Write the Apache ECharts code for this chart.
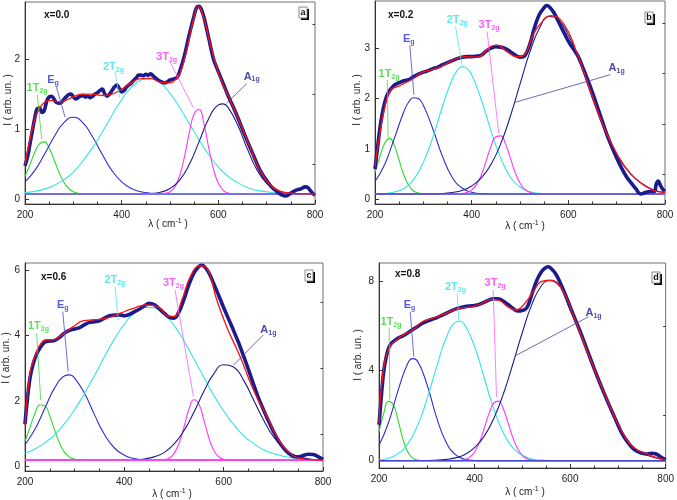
<!DOCTYPE html>
<html><head><meta charset="utf-8">
<script src="https://cdn.jsdelivr.net/npm/echarts@6/dist/echarts.min.js"></script>
<style>html,body{margin:0;padding:0;background:#fff}#c{width:677px;height:500px}</style>
</head><body><div id="c"></div>
<script>
// ---------- shared ticks ----------
const xTicks = [200, 400, 600, 800];
const a_yTicks = [0, 1, 2], a_yMinor = [0.5, 1.5, 2.5];
const b_yTicks = [0, 1, 2, 3], b_yMinor = [0.5, 1.5, 2.5, 3.5];
const c_yTicks = [0, 2, 4, 6], c_yMinor = [1, 3, 5];
const d_yTicks = [0, 4, 8], d_yMinor = [2, 6];
const compNames = [['1T','2g'], ['E','g'], ['2T','2g'], ['3T','2g'], ['A','1g']];
const sampleLabels = ['x=0.0', 'x=0.2', 'x=0.6', 'x=0.8'];
const panelLetters = ['a', 'b', 'c', 'd'];

// ---------- panel a ----------
const a_exp = [[200,0.48],[205,0.6],[210,0.78],[215,0.97],[220,1.15],[225,1.29],[230,1.3],[235,1.24],[240,1.27],[245,1.4],[250,1.46],[255,1.47],[260,1.43],[265,1.38],[270,1.37],[275,1.38],[280,1.42],[285,1.46],[290,1.49],[295,1.5],[300,1.46],[305,1.43],[310,1.45],[315,1.47],[320,1.48],[325,1.46],[330,1.47],[335,1.45],[340,1.47],[345,1.5],[350,1.52],[355,1.55],[360,1.57],[365,1.5],[370,1.47],[375,1.5],[380,1.55],[385,1.6],[390,1.63],[395,1.58],[400,1.53],[405,1.55],[410,1.6],[420,1.66],[430,1.73],[435,1.77],[440,1.77],[445,1.76],[450,1.78],[455,1.77],[460,1.79],[465,1.76],[470,1.73],[480,1.68],[490,1.66],[500,1.7],[510,1.72],[515,1.74],[520,1.82],[530,2.05],[540,2.35],[550,2.62],[555,2.73],[560,2.75],[565,2.7],[570,2.6],[580,2.3],[590,2.0],[600,1.82],[610,1.65],[620,1.48],[630,1.33],[640,1.17],[650,1.0],[660,0.83],[670,0.67],[680,0.51],[690,0.37],[700,0.27],[710,0.18],[720,0.12],[730,0.07],[740,0.05],[750,0.09],[760,0.13],[770,0.15],[780,0.18],[785,0.17],[790,0.13],[795,0.09],[800,0.06]];
const a_fit = [[200,0.5],[210,0.85],[220,1.13],[230,1.3],[240,1.38],[250,1.41],[260,1.4],[270,1.39],[280,1.4],[290,1.43],[300,1.46],[320,1.5],[340,1.5],[360,1.48],[380,1.5],[400,1.57],[420,1.66],[440,1.72],[460,1.72],[480,1.67],[500,1.66],[510,1.7],[520,1.79],[530,2.0],[540,2.3],[550,2.6],[558,2.75],[570,2.58],[583,2.22],[603,1.75],[624,1.42],[645,1.09],[665,0.75],[686,0.42],[707,0.21],[728,0.12],[750,0.09],[775,0.08],[800,0.08]];
const a_1T = [[200,0.33],[210,0.49],[220,0.67],[230,0.79],[240,0.82],[250,0.73],[260,0.57],[270,0.39],[280,0.25],[290,0.16],[300,0.11],[310,0.09],[320,0.08],[800,0.08]];
const a_Eg = [[200,0.25],[220,0.41],[240,0.64],[260,0.89],[280,1.09],[300,1.17],[320,1.09],[340,0.89],[360,0.64],[380,0.41],[400,0.25],[420,0.155],[440,0.11],[460,0.09],[480,0.08],[800,0.08]];
const a_2T = [[200,0.1],[220,0.116],[240,0.148],[260,0.2],[280,0.28],[300,0.39],[320,0.55],[340,0.74],[360,0.96],[380,1.2],[400,1.42],[420,1.6],[440,1.7],[460,1.73],[480,1.66],[500,1.51],[520,1.31],[540,1.08],[560,0.85],[580,0.64],[600,0.46],[620,0.33],[640,0.24],[660,0.17],[680,0.13],[700,0.11],[720,0.093],[740,0.086],[760,0.082],[800,0.08]];
const a_3T = [[200,0.08],[480,0.08],[490,0.087],[500,0.11],[510,0.18],[520,0.34],[530,0.61],[540,0.95],[550,1.22],[560,1.28],[570,1.08],[580,0.74],[590,0.43],[600,0.23],[610,0.13],[620,0.093],[630,0.082],[640,0.08],[800,0.08]];
const a_A1g = [[200,0.08],[440,0.08],[460,0.086],[480,0.104],[500,0.156],[520,0.277],[540,0.5],[560,0.82],[580,1.15],[600,1.345],[610,1.36],[620,1.31],[640,1.06],[660,0.72],[680,0.42],[700,0.23],[720,0.135],[740,0.096],[760,0.084],[780,0.08],[800,0.08]];
const a_base = [[200,0.08],[800,0.08]];

// ---------- panel b ----------
const b_exp = [[200,0.6],[205,1.0],[210,1.4],[215,1.7],[220,1.92],[225,2.07],[230,2.16],[235,2.22],[240,2.27],[245,2.3],[250,2.32],[260,2.36],[270,2.38],[280,2.44],[290,2.49],[300,2.53],[310,2.56],[320,2.6],[330,2.63],[340,2.68],[350,2.72],[360,2.76],[370,2.8],[380,2.83],[390,2.84],[400,2.84],[410,2.85],[420,2.87],[430,2.95],[440,3.01],[450,3.04],[460,3.03],[470,3.0],[480,2.94],[490,2.87],[500,2.83],[510,2.86],[520,3.08],[530,3.42],[540,3.68],[550,3.82],[555,3.86],[560,3.84],[570,3.72],[580,3.53],[590,3.34],[600,3.15],[610,3.0],[620,2.85],[630,2.62],[640,2.38],[650,2.12],[660,1.84],[670,1.56],[680,1.28],[690,1.04],[700,0.82],[710,0.62],[720,0.45],[730,0.32],[740,0.2],[745,0.13],[750,0.1],[760,0.13],[770,0.15],[778,0.15],[782,0.3],[786,0.36],[790,0.28],[795,0.2],[800,0.15]];
const b_fit = [[200,0.65],[208,1.18],[219,1.78],[232,2.18],[243,2.23],[253,2.27],[280,2.41],[301,2.54],[329,2.61],[356,2.74],[384,2.84],[411,2.83],[439,3.04],[453,3.07],[473,2.94],[494,2.84],[508,2.87],[528,3.3],[549,3.57],[563,3.66],[590,3.5],[618,2.91],[645,2.18],[673,1.44],[700,0.91],[728,0.51],[756,0.28],[783,0.15],[800,0.13]];
const b_1T = [[200,0.53],[210,0.84],[220,1.11],[230,1.21],[240,1.07],[250,0.77],[260,0.47],[270,0.27],[280,0.16],[290,0.12],[300,0.103],[310,0.1],[800,0.1]];
const b_Eg = [[200,0.35],[220,0.69],[240,1.21],[260,1.75],[270,1.94],[280,2.02],[290,2.0],[300,1.87],[320,1.39],[340,0.84],[360,0.43],[380,0.22],[400,0.133],[420,0.107],[440,0.1],[800,0.1]];
const b_2T = [[200,0.103],[220,0.111],[240,0.138],[260,0.21],[280,0.39],[300,0.73],[320,1.24],[340,1.86],[360,2.4],[370,2.56],[380,2.64],[390,2.61],[400,2.48],[420,1.98],[440,1.36],[460,0.82],[480,0.44],[500,0.24],[520,0.148],[540,0.114],[560,0.102],[800,0.1]];
const b_3T = [[200,0.1],[370,0.1],[380,0.108],[390,0.127],[400,0.178],[410,0.29],[420,0.48],[430,0.76],[440,1.05],[450,1.24],[460,1.26],[470,1.1],[480,0.82],[490,0.53],[500,0.32],[510,0.19],[520,0.134],[530,0.11],[540,0.102],[550,0.1],[800,0.1]];
const b_A1g = [[200,0.1],[300,0.1],[340,0.11],[360,0.13],[380,0.17],[400,0.26],[420,0.42],[440,0.69],[460,1.1],[480,1.65],[500,2.29],[520,2.92],[540,3.4],[560,3.64],[580,3.57],[600,3.27],[620,2.84],[640,2.28],[660,1.74],[680,1.26],[700,0.88],[720,0.6],[740,0.4],[760,0.26],[780,0.17],[800,0.13]];
const b_base = [[200,0.1],[800,0.1]];

// ---------- panel c ----------
const c_exp = [[200,1.3],[205,2.1],[210,2.7],[215,3.05],[220,3.3],[225,3.48],[230,3.62],[235,3.72],[240,3.8],[250,3.83],[260,3.85],[270,3.95],[280,4.08],[290,4.16],[300,4.2],[310,4.24],[320,4.33],[330,4.4],[340,4.42],[350,4.45],[360,4.53],[370,4.6],[380,4.62],[390,4.63],[400,4.6],[410,4.64],[420,4.72],[430,4.8],[440,4.9],[450,4.98],[460,4.94],[470,4.82],[480,4.68],[490,4.56],[500,4.53],[510,4.72],[520,5.1],[530,5.55],[540,5.9],[550,6.1],[555,6.14],[560,6.12],[570,5.92],[580,5.58],[590,5.22],[600,4.85],[610,4.5],[620,4.15],[630,3.78],[640,3.38],[650,2.96],[660,2.52],[670,2.1],[680,1.74],[690,1.4],[700,1.08],[710,0.8],[720,0.58],[730,0.42],[740,0.32],[750,0.3],[760,0.34],[770,0.38],[780,0.37],[790,0.31],[800,0.22]];
const c_fit = [[200,1.27],[210,2.85],[220,3.36],[230,3.71],[244,3.87],[257,3.87],[270,3.97],[284,4.12],[297,4.27],[318,4.45],[338,4.48],[365,4.53],[392,4.68],[418,4.83],[445,4.93],[472,4.83],[486,4.6],[499,4.58],[516,5.09],[533,5.8],[553,6.12],[566,6.05],[586,5.09],[606,4.27],[633,3.36],[660,2.34],[687,1.53],[707,0.92],[727,0.51],[754,0.25],[780,0.21],[800,0.2]];
const c_1T = [[200,0.77],[210,1.19],[220,1.62],[230,1.88],[240,1.85],[250,1.54],[260,1.1],[270,0.7],[280,0.43],[290,0.29],[300,0.23],[310,0.207],[320,0.2],[800,0.2]];
const c_Eg = [[200,0.67],[220,1.14],[240,1.78],[260,2.41],[280,2.77],[290,2.8],[300,2.7],[320,2.23],[340,1.58],[360,0.98],[380,0.57],[400,0.35],[420,0.25],[440,0.213],[460,0.202],[800,0.2]];
const c_2T = [[200,0.41],[220,0.54],[240,0.73],[260,0.98],[280,1.32],[300,1.74],[320,2.24],[340,2.78],[360,3.35],[380,3.89],[400,4.35],[420,4.69],[440,4.86],[460,4.85],[480,4.66],[500,4.31],[520,3.84],[540,3.29],[560,2.73],[580,2.18],[600,1.7],[620,1.29],[640,0.95],[660,0.71],[680,0.52],[700,0.4],[720,0.32],[740,0.27],[760,0.24],[780,0.22],[800,0.21]];
const c_3T = [[200,0.2],[470,0.2],[480,0.215],[490,0.26],[500,0.4],[510,0.71],[520,1.21],[530,1.75],[540,2.04],[550,1.91],[560,1.43],[570,0.89],[580,0.5],[590,0.3],[600,0.23],[610,0.205],[620,0.2],[800,0.2]];
const c_A1g = [[200,0.2],[400,0.2],[420,0.212],[440,0.236],[460,0.3],[480,0.43],[500,0.69],[520,1.1],[540,1.66],[560,2.29],[580,2.83],[600,3.11],[620,3.04],[640,2.64],[660,2.04],[680,1.43],[700,0.92],[720,0.57],[740,0.37],[760,0.27],[780,0.22],[800,0.207]];
const c_base = [[200,0.2],[800,0.2]];

// ---------- panel d ----------
const d_exp = [[200,1.6],[205,2.9],[210,4.0],[215,4.6],[220,5.0],[225,5.2],[230,5.3],[240,5.45],[250,5.55],[260,5.68],[270,5.82],[280,5.96],[290,6.1],[300,6.2],[310,6.28],[320,6.35],[330,6.45],[340,6.55],[350,6.65],[360,6.74],[370,6.8],[380,6.85],[390,6.88],[400,6.9],[410,6.95],[420,7.04],[430,7.14],[440,7.2],[450,7.2],[460,7.1],[470,6.95],[480,6.78],[490,6.66],[500,6.68],[510,6.82],[520,7.4],[530,8.0],[540,8.4],[550,8.6],[555,8.62],[560,8.55],[570,8.3],[580,7.88],[590,7.38],[600,6.85],[610,6.32],[620,5.8],[630,5.25],[640,4.68],[650,4.12],[660,3.58],[670,3.06],[680,2.56],[690,2.08],[700,1.6],[710,1.16],[720,0.84],[730,0.58],[740,0.42],[750,0.34],[760,0.3],[770,0.33],[780,0.3],[790,0.16],[800,0.05]];
const d_fit = [[200,1.66],[209,4.03],[223,5.07],[236,5.36],[250,5.59],[271,5.81],[291,6.18],[312,6.33],[340,6.55],[367,6.77],[395,6.84],[415,6.99],[436,7.17],[450,7.14],[470,6.84],[487,6.7],[505,6.99],[525,7.59],[539,7.96],[556,8.03],[580,7.73],[608,6.4],[635,4.92],[663,3.44],[690,2.1],[711,1.21],[731,0.62],[766,0.25],[800,0.03]];
const d_1T = [[200,1.28],[210,2.11],[220,2.64],[230,2.49],[240,1.79],[250,0.97],[260,0.4],[270,0.125],[280,0.03],[290,0.005],[300,0],[800,0]];
const d_Eg = [[200,0.68],[220,1.7],[240,3.13],[260,4.32],[270,4.54],[280,4.45],[300,3.42],[320,1.96],[340,0.84],[360,0.27],[380,0.064],[400,0.011],[420,0],[800,0]];
const d_2T = [[200,0.036],[220,0.114],[240,0.315],[260,0.75],[280,1.53],[300,2.71],[320,4.13],[340,5.43],[360,6.15],[370,6.2],[380,6.02],[400,5.08],[420,3.7],[440,2.32],[460,1.25],[480,0.58],[500,0.24],[520,0.08],[540,0.024],[560,0.005],[800,0]];
const d_3T = [[200,0],[360,0],[370,0.015],[380,0.054],[390,0.16],[400,0.39],[410,0.81],[420,1.42],[430,2.08],[440,2.56],[450,2.65],[460,2.31],[470,1.69],[480,1.04],[490,0.54],[500,0.23],[510,0.085],[520,0.026],[530,0.007],[540,0],[800,0]];
const d_A1g = [[200,0],[300,0.01],[340,0.06],[360,0.126],[380,0.28],[400,0.58],[420,1.08],[440,1.87],[460,2.95],[480,4.29],[500,5.7],[520,6.95],[540,7.78],[556,8.0],[580,7.7],[600,6.7],[620,5.85],[640,4.6],[660,3.5],[680,2.5],[700,1.6],[720,0.92],[740,0.47],[760,0.25],[780,0.12],[800,0.03]];
const d_base = [[200,0],[800,0]];

// ---------- annotation anchors (label centre, arrow start, arrow end) in data units ----------
const a_notes = [[225,1.58, 225.5,1.49, 234.5,0.86],[258,1.7, 265,1.6, 283,1.17],[383,1.89, 386,1.82, 396,1.45],[493,2.03, 500,1.96, 548,1.31],[669,1.75, 659,1.65, 617,1.37]];
const b_notes = [[229,2.5, 225.5,2.38, 227,1.23],[270,3.2, 272,3.07, 280.5,2.08],[370,3.57, 366.6,3.44, 380,2.67],[436,3.47, 432,3.34, 456,1.31],[700,2.61, 687,2.48, 490.5,1.93]];
const c_notes = [[227,4.29, 223.5,4.07, 231.6,2.03],[276,4.93, 276,4.73, 287,2.9],[381,5.7, 381,5.49, 388,4.46],[499,5.6, 502,5.39, 539,2.14],[690,4.17, 680,4.02, 620,3.1]];
const d_notes = [[225,6.18, 221.3,5.93, 222.7,2.73],[264,6.92, 265.3,6.62, 272.9,4.62],[360,7.73, 363.6,7.44, 367,6.22],[443,7.88, 439,7.59, 446,2.84],[649,6.55, 638.5,6.4, 484,4.65]];

// ---------- layout / style ----------
const FONT = 'Liberation Sans, Arial, sans-serif';
const compColors = ['#2fd82f', '#2e2ed0', '#35e3e3', '#ff36ff', '#1c1c8a'];
const arrowColors = ['#3fdc3f', '#4a4ad6', '#50e6e6', '#ff60ff', '#4646a0'];
const panels = [
  {grid:{left:25, top:2, width:290, height:202}, ymin:-0.064, ymax:2.81, yt:a_yTicks, ym:a_yMinor, exp:a_exp, fit:a_fit, comps:[a_1T,a_Eg,a_2T,a_3T,a_A1g], base:a_base, baseColor:'#7272ea', notes:a_notes,
   ytitle:[8,100], xtitle:[168,224], sample:[44,15], box:[299,7]},
  {grid:{left:375, top:1, width:290, height:203}, ymin:-0.1, ymax:3.95, yt:b_yTicks, ym:b_yMinor, exp:b_exp, fit:b_fit, comps:[b_1T,b_Eg,b_2T,b_3T,b_A1g], base:b_base, baseColor:'#5a5ad8', notes:b_notes,
   ytitle:[357,100], xtitle:[525,226], sample:[388,15], box:[645,12]},
  {grid:{left:25, top:263, width:298, height:208}, ymin:-0.131, ymax:6.21, yt:c_yTicks, ym:c_yMinor, exp:c_exp, fit:c_fit, comps:[c_1T,c_Eg,c_2T,c_3T,c_A1g], base:c_base, baseColor:'#ff44ff', notes:c_notes,
   ytitle:[6,358], xtitle:[172,494], sample:[41,277], box:[305,270]},
  {grid:{left:379, top:263, width:291, height:205}, ymin:-0.324, ymax:8.79, yt:d_yTicks, ym:d_yMinor, exp:d_exp, fit:d_fit, comps:[d_1T,d_Eg,d_2T,d_3T,d_A1g], base:d_base, baseColor:'#4a4ad0', notes:d_notes,
   ytitle:[358,355], xtitle:[525,492], sample:[395,274], box:[652,272]}
];

const grid = [], xAxis = [], yAxis = [], series = [], graphic = [];
panels.forEach((p, i) => {
  grid.push(Object.assign({show:true, borderColor:'#707070', borderWidth:1, containLabel:false}, p.grid));
  xAxis.push({type:'value', gridIndex:i, min:200, max:800, interval:200,
    axisLine:{show:true, onZero:false, lineStyle:{color:'#333', width:1}},
    axisTick:{inside:true, length:4, lineStyle:{color:'#333'}},
    minorTick:{show:true, splitNumber:4, length:2.5, lineStyle:{color:'#333'}},
    axisLabel:{fontFamily:FONT, fontSize:10, color:'#222', margin:6, customValues:xTicks},
    splitLine:{show:false}, minorSplitLine:{show:false}});
  yAxis.push({type:'value', gridIndex:i, min:p.ymin, max:p.ymax,
    axisLine:{show:true, onZero:false, lineStyle:{color:'#333', width:1}},
    axisTick:{inside:true, length:4, customValues:p.yt, lineStyle:{color:'#333'}},
    axisLabel:{fontFamily:FONT, fontSize:10, color:'#222', margin:5, customValues:p.yt},
    splitLine:{show:false}});
  yAxis.push({type:'value', gridIndex:i, min:p.ymin, max:p.ymax,
    axisLine:{show:false}, axisTick:{inside:true, length:2.5, customValues:p.ym, lineStyle:{color:'#333'}},
    axisLabel:{show:false}, splitLine:{show:false}});
  const yi = 2*i;
  p.comps.forEach((d, k) => {
    series.push({type:'line', xAxisIndex:i, yAxisIndex:yi, data:d, smooth:true, showSymbol:false, z:2,
      lineStyle:{color:compColors[k], width:1.1}, silent:true});
  });
  series.push({type:'line', xAxisIndex:i, yAxisIndex:yi, data:p.base, showSymbol:false, z:2,
    lineStyle:{color:p.baseColor, width:1.6}, silent:true});
  series.push({type:'line', xAxisIndex:i, yAxisIndex:yi, data:p.exp, smooth:0.4, showSymbol:false, z:3,
    lineStyle:{color:'#1b1b8e', width:3.6}, silent:true});
  series.push({type:'line', xAxisIndex:i, yAxisIndex:yi, data:p.fit, smooth:true, showSymbol:false, z:4,
    lineStyle:{color:'#ff1010', width:1.3}, silent:true});
  // labels + arrows
  series.push({type:'scatter', xAxisIndex:i, yAxisIndex:yi, symbol:'circle', symbolSize:2,
    itemStyle:{color:'rgba(255,255,255,0)'}, z:6, silent:true,
    data:p.notes.map((n, k) => ({value:[n[0], n[1]], main:compNames[k][0], sub:compNames[k][1],
      label:{color:compColors[k]}})),
    label:{show:true, position:'inside', fontFamily:FONT,
      formatter:(q) => '{m|' + q.data.main + '}{s|' + q.data.sub + '}',
      rich:{m:{fontSize:11, fontWeight:'bold', fontFamily:FONT}, s:{fontSize:7, fontWeight:'bold', fontFamily:FONT, padding:[6,0,0,0]}}},
    markLine:{silent:true, symbol:['none','arrow'], symbolSize:[0,7], animation:false, label:{show:false},
      lineStyle:{width:0.8, type:'solid'},
      data:p.notes.map((n, k) => [{coord:[n[2], n[3]], lineStyle:{color:arrowColors[k], width:0.8, type:'solid'}, itemStyle:{color:arrowColors[k]}}, {coord:[n[4], n[5]]}])}
  });
  // titles & decorations
  graphic.push({type:'text', x:p.ytitle[0], y:p.ytitle[1], rotation:Math.PI/2,
    style:{text:'I ( arb. un. )', font:'10px ' + FONT, fill:'#222', align:'center', verticalAlign:'middle'}});
  graphic.push({type:'text', x:p.xtitle[0], y:p.xtitle[1],
    style:{text:'λ ( cm{sup|-1} )', font:'10px ' + FONT, fill:'#222', align:'center', verticalAlign:'middle',
      rich:{sup:{fontSize:7, fontFamily:FONT, padding:[0,0,6,0]}}}});
  graphic.push({type:'text', x:p.sample[0], y:p.sample[1],
    style:{text:sampleLabels[i], font:'bold 10px ' + FONT, fill:'#111', align:'left', verticalAlign:'middle'}});
  graphic.push({type:'rect', shape:{x:p.box[0]+2, y:p.box[1]+2, width:8, height:11}, style:{fill:'#000'}});
  graphic.push({type:'rect', shape:{x:p.box[0], y:p.box[1], width:8, height:11}, style:{fill:'#fff', stroke:'#888', lineWidth:1}});
  graphic.push({type:'text', x:p.box[0]+4, y:p.box[1]+5.5,
    style:{text:panelLetters[i], font:'bold 9px ' + FONT, fill:'#111', align:'center', verticalAlign:'middle'}});
});

const chart = echarts.init(document.getElementById('c'), null, {renderer:'canvas'});
chart.setOption({animation:false, backgroundColor:'#fff', grid, xAxis, yAxis, series, graphic});
</script>
</body></html>
